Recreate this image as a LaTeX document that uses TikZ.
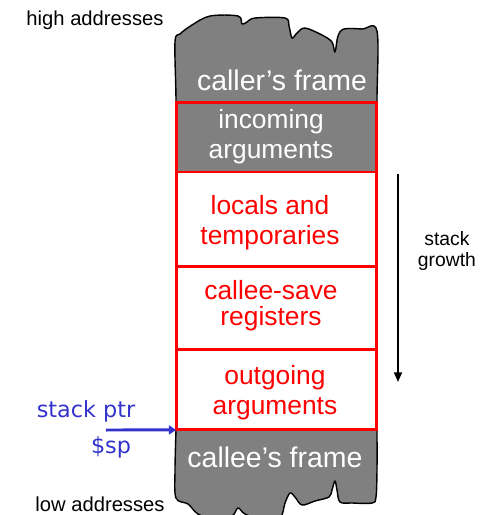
\documentclass[tikz,border=0pt]{standalone}
\usepackage{fontspec}
\setmainfont{Liberation Sans}
\newfontfamily\ptrfont{DejaVu Sans}
\usetikzlibrary{arrows.meta, positioning}
\definecolor{FrameGray}{RGB}{128, 128, 128}
\definecolor{FrameRed}{RGB}{255, 0, 0}
\definecolor{PtrBlue}{RGB}{51, 51, 204}

\begin{document}
\begin{tikzpicture}[x=0.02cm, y=-0.02cm,
        torn/.style={fill=FrameGray, draw=black, line width=0.8pt, line join=round},
        slot/.style={draw=FrameRed, line width=1.7pt, minimum width=4.02cm, inner sep=0pt, outer sep=0pt},
        slottext/.style={align=center, text=FrameRed, font=\fontsize{15}{17}\selectfont},
        framelabel/.style={text=white, font=\fontsize{16.2}{19}\selectfont},
        side/.style={font=\fontsize{11.5}{13}\selectfont},
        ptr/.style={text=PtrBlue, font=\ptrfont\fontsize{12.7}{15}\selectfont}]
        \useasboundingbox (0,0) rectangle (480,515);
        \clip (0,0) rectangle (480,515);

        % torn edges of the neighbouring frames
        \draw[torn] plot[smooth, tension=0.55] coordinates {(176,170) (176,100) (175,42) (180,34) (192,25) (210,16) (238,16) (242,24) (247,22) (255,18) (285,18) (289,26) (292,38) (297,33) (305,28) (322,35) (332,42) (335,52) (338,36) (344,29) (362,29) (377,31) (377,100) (377,170)} -- cycle;
        \draw[torn] plot[smooth, tension=0.55] coordinates {(377,430) (377,470) (376,497) (372,503) (352,503) (340,502) (337,490) (335,481) (332,490) (329,497) (315,501) (302,505) (295,497) (290,493) (285,503) (280,518) (262,520) (245,514) (238,508) (232,516) (215,520) (198,514) (188,504) (176,498) (175,470) (176,430)} -- cycle;

        \node[framelabel] (caller) at (282,80) {caller’s frame};
        \node[framelabel] (callee) at (275,457) {callee’s frame};

        % the callee's frame
        \node[slot, fill=FrameGray, minimum height=1.4cm] (incoming) at (276.5,137) {};
        \node[slot, minimum height=1.9cm, below=0pt of incoming] (locals) {};
        \node[slot, minimum height=1.66cm, below=0pt of locals] (saved) {};
        \node[slot, minimum height=1.6cm, below=0pt of saved] (outgoing) {};

        \node[slottext, text=white] (incomingtext) at (271,136.5) {incoming\\arguments};
        \node[slottext] (localstext) at (270,222.5) {locals and\\temporaries};
        \node[slottext, font=\fontsize{15}{15}\selectfont] (savedtext) at (271,306) {callee-save\\registers};
        \node[slottext] (outgoingtext) at (275,393) {outgoing\\arguments};

        \node[side] (high) at (95,20) {high addresses};
        \node[side] (low) at (100,504) {low addresses};
        \node[side, align=center, font=\fontsize{11}{12.5}\selectfont] (growth) at (447,251) {stack\\growth};

        \coordinate (growthtop) at (398,174);
        \coordinate (growthend) at (398,382);
        \draw[line width=1.1pt, -{Triangle[length=5.5pt, width=4.5pt]}] (growthtop) -- (growthend);

        \node[ptr] (ptrlabel) at (86,411) {stack ptr};
        \node[ptr] (sp) at (111,447) {\$sp};
        \coordinate (ptrtail) at (106,430);
        \draw[PtrBlue, line width=1.7pt, -{Triangle[length=4pt, width=5pt]}] (ptrtail) -- (outgoing.south west);
    \end{tikzpicture}
\end{document}
